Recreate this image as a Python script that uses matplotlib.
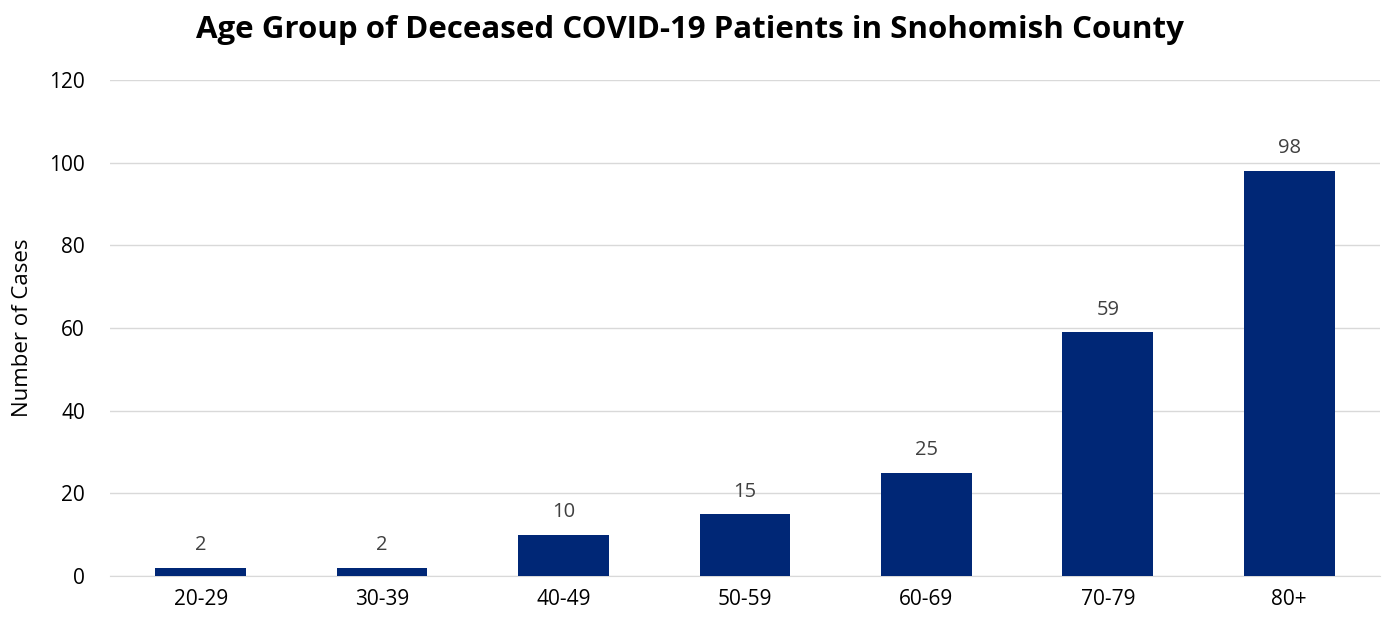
import matplotlib.pyplot as plt

age_groups = ["20-29", "30-39", "40-49", "50-59", "60-69", "70-79", "80+"]
deaths = [2, 2, 10, 15, 25, 59, 98]
y_ticks = [0, 20, 40, 60, 80, 100, 120]

plt.rcParams['font.family'] = ['Open Sans', 'DejaVu Sans']

fig = plt.figure(figsize=(13.89, 6.24), dpi=100)
ax = fig.add_axes([0.0792, 0.0769, 0.9143, 0.7949])

xs = range(len(age_groups))
ax.bar(xs, deaths, width=0.5, color='#002776', zorder=3)

# value labels above each bar
for x, v in zip(xs, deaths):
    ax.annotate(str(v), (x, v), xytext=(0, 9), textcoords='offset points',
                ha='center', va='bottom', fontsize=14.5, color='#404040')

ax.set_xlim(-0.5, len(age_groups) - 0.5)
ax.set_ylim(0, 120)
ax.set_yticks(y_ticks)
ax.set_xticks(list(xs))
ax.set_xticklabels(age_groups)
ax.tick_params(axis='both', length=0, labelsize=15, colors='black')
ax.tick_params(axis='y', pad=18)
ax.tick_params(axis='x', pad=9)

ax.grid(axis='y', color='#d9d9d9', linewidth=1, zorder=0)
for side in ['top', 'right', 'left']:
    ax.spines[side].set_visible(False)
ax.spines['bottom'].set_color('#d9d9d9')

ax.set_ylabel("Number of Cases", fontsize=16, labelpad=12)
fig.text(0.497, 0.952, "Age Group of Deceased COVID-19 Patients in Snohomish County",
         ha='center', va='center', fontsize=22.5, fontweight='bold')

fig.savefig("out.png", dpi=100)
